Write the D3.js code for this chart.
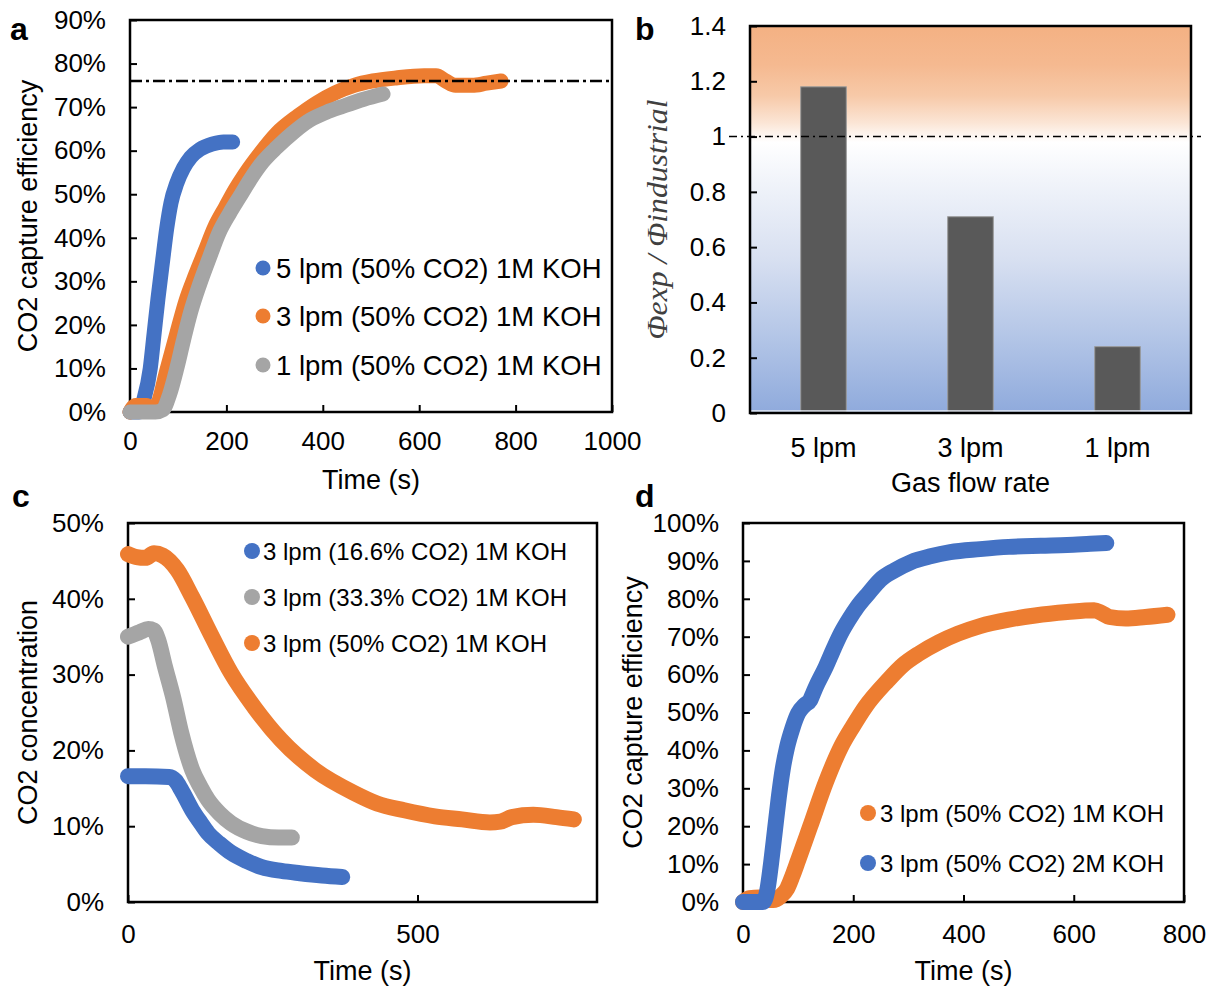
<!DOCTYPE html>
<html><head><meta charset="utf-8">
<script src="https://cdn.jsdelivr.net/npm/d3@7"></script>
<style>
body{margin:0;background:#fff}
svg{display:block}
</style>
</head><body>
<svg id="chart" width="1209" height="987"></svg>
<script>
// ---------------- DATA ----------------
// Panel a: [time (s), CO2 capture efficiency (%)]
const a5lpm = [[0,0],[19,0],[29,3],[42,10],[50,18],[58,26],[68,35],[76,42],[85,48],[97,52.5],[111,56],[126,58.5],[145,60.3],[170,61.5],[194,62],[213,62]];
const a3lpm = [[0,0],[12,1.5],[34,1.5],[48,0.5],[60,2.5],[75,9],[97,18],[116,25.5],[136,31.5],[156,37],[176,42.5],[198,47],[218,51],[238,54.5],[271,59.5],[305,64],[349,68],[388,71],[426,73.3],[465,75],[504,76],[552,76.7],[610,77.2],[635,77.2],[655,76],[675,75],[710,75],[740,75.5],[770,76]];
const a1lpm = [[0,0],[29,0],[53,0],[68,0.5],[82,4],[97,10],[111,16.5],[126,23],[145,29.5],[165,35.5],[184,41],[207,45.7],[228,49.5],[249,53.3],[276,57.5],[305,60.8],[339,64.2],[373,67],[407,68.8],[442,70.2],[485,71.8],[525,73]];
const aLegend = ["5 lpm (50% CO2) 1M KOH","3 lpm (50% CO2) 1M KOH","1 lpm (50% CO2) 1M KOH"];
const aXTicks = [0,200,400,600,800,1000];
const aYTicks = [0,10,20,30,40,50,60,70,80,90];
const aTarget = 76;

// Panel b
const bCategories = ["5 lpm","3 lpm","1 lpm"];
const bValues = [1.18, 0.71, 0.24];
const bYTicks = [0,0.2,0.4,0.6,0.8,1,1.2,1.4];
const bTarget = 1;

// Panel c: [time (s), CO2 concentration (%)]
const c166 = [[0,16.6],[30,16.6],[71,16.5],[82,16],[92,14.8],[111,12.1],[125,10.5],[138,9.1],[158,7.7],[178,6.5],[205,5.4],[231,4.6],[265,4.1],[297,3.8],[335,3.5],[370,3.3]];
const c333 = [[0,35],[20,35.6],[35,36],[45,35.8],[52,34.6],[64,31],[78,27],[92,22.3],[111,17.4],[125,15.2],[138,13.5],[158,11.7],[178,10.4],[205,9.3],[231,8.7],[260,8.5],[283,8.5]];
const c50 = [[0,45.9],[15,45.5],[30,45.4],[45,46],[60,45.7],[72,45],[85,43.8],[111,40.2],[145,35],[178,30.2],[218,25.7],[264,21.4],[323,17.4],[390,14.4],[430,13],[477,12.1],[530,11.3],[577,10.9],[625,10.5],[643,10.6],[663,11.2],[700,11.5],[740,11.2],[770,10.9]];
const cLegend = ["3 lpm (16.6% CO2) 1M KOH","3 lpm (33.3% CO2) 1M KOH","3 lpm (50% CO2) 1M KOH"];
const cXTicks = [0,500];
const cYTicks = [0,10,20,30,40,50];

// Panel d: [time (s), CO2 capture efficiency (%)]
const d1M = [[0,0],[12,1],[30,1.2],[45,0.5],[55,0.5],[68,1.5],[80,3.5],[90,7],[100,11],[122,20],[150,31.5],[178,41],[200,46.5],[221,51.3],[263,58.5],[290,62.5],[320,65.6],[355,68.5],[390,70.8],[430,72.8],[482,74.5],[530,75.6],[588,76.5],[637,77],[650,76.3],[665,75.2],[694,74.8],[730,75.2],[770,75.8]];
const d2M = [[0,0],[20,0],[36,0],[44,3],[51,10.3],[58,19],[65,27.7],[72,35],[80,40.9],[90,46],[100,49.8],[112,52],[122,53.3],[127,55],[132,56.7],[150,62],[165,67],[178,71],[192,74.5],[207,77.8],[228,81.5],[249,85],[275,87.5],[305,89.7],[340,91.2],[376,92.3],[430,93.1],[482,93.7],[540,94],[588,94.2],[630,94.5],[659,94.7]];
const dLegend = ["3 lpm (50% CO2) 1M KOH","3 lpm (50% CO2) 2M KOH"];
const dXTicks = [0,200,400,600,800];
const dYTicks = [0,10,20,30,40,50,60,70,80,90,100];

// ---------------- STYLE ----------------
const FONT = "'Liberation Sans', Arial, sans-serif";
const BLUE = "#4472C4", ORANGE = "#ED7D31", GRAY = "#A5A5A5";
const TICK_FS = 26;
const svg = d3.select("#chart");

function txt(x, y, s, size, opts = {}) {
  const t = svg.append("text").attr("x", x).attr("y", y).text(s)
    .attr("font-family", opts.family || FONT).attr("font-size", size)
    .attr("fill", opts.fill || "#000")
    .attr("text-anchor", opts.anchor || "start");
  if (opts.weight) t.attr("font-weight", opts.weight);
  if (opts.style) t.attr("font-style", opts.style);
  if (opts.rotate) t.attr("transform", `rotate(-90,${x},${y})`);
  if (opts.baseline) t.attr("dominant-baseline", opts.baseline);
  if (opts.len) t.attr("textLength", opts.len).attr("lengthAdjust", "spacingAndGlyphs");
  return t;
}

function linePanel(p) {
  const x = d3.scaleLinear().domain(p.xDomain).range([p.left, p.right]);
  const y = d3.scaleLinear().domain(p.yDomain).range([p.bottom, p.top]);
  const g = svg.append("g");
  // axes
  const ya = g.append("g").attr("transform", `translate(${p.left},0)`)
    .call(d3.axisLeft(y).tickValues(p.yTicks).tickFormat(d => d + "%").tickSize(-7).tickPadding(24));
  const xa = g.append("g").attr("transform", `translate(0,${p.bottom})`)
    .call(d3.axisBottom(x).tickValues(p.xTicks).tickFormat(d3.format("d")).tickSize(-7).tickPadding(p.xPad));
  [ya, xa].forEach(a => {
    a.select(".domain").remove();
    a.selectAll("line").attr("stroke", "#000").attr("stroke-width", 2);
    a.selectAll("text").attr("font-size", TICK_FS).attr("font-family", FONT).attr("fill", "#000");
  });
  g.append("rect").attr("x", p.left).attr("y", p.top)
    .attr("width", p.right - p.left).attr("height", p.bottom - p.top)
    .attr("fill", "none").attr("stroke", "#000").attr("stroke-width", 2.5);
  // series
  const line = d3.line().x(d => x(d[0])).y(d => y(d[1])).curve(d3.curveMonotoneX);
  p.series.forEach(s => {
    g.append("path").datum(s.data).attr("d", line)
      .attr("fill", "none").attr("stroke", s.color).attr("stroke-width", p.sw)
      .attr("stroke-linecap", "round").attr("stroke-linejoin", "round");
  });
  // target line
  if (p.target !== undefined) {
    g.append("line").attr("x1", p.left).attr("x2", p.right)
      .attr("y1", y(p.target)).attr("y2", y(p.target))
      .attr("stroke", "#000").attr("stroke-width", 2.5).attr("stroke-dasharray", "12,4,3,4");
  }
  // legend
  p.legend.items.forEach((it, i) => {
    const ly = p.legend.ys[i];
    g.append("circle").attr("cx", p.legend.dotX).attr("cy", ly).attr("r", p.legend.r).attr("fill", it.color);
    txt(p.legend.textX, ly + 0.36 * p.legend.size, it.label, p.legend.size);
  });
  // titles
  txt((p.left + p.right) / 2, p.xTitleY, "Time (s)", 27, {anchor: "middle"});
  txt(p.yTitleX, (p.top + p.bottom) / 2, p.yTitle, 27, {anchor: "middle", rotate: true, baseline: "central"});
}

// ---------------- PANEL A ----------------
linePanel({
  left: 130, right: 612, top: 20, bottom: 412,
  xDomain: [0, 1000], yDomain: [0, 90], xTicks: aXTicks, yTicks: aYTicks, xPad: 20,
  sw: 15,
  series: [{data: a5lpm, color: BLUE}, {data: a3lpm, color: ORANGE}, {data: a1lpm, color: GRAY}],
  target: aTarget,
  legend: {dotX: 263, textX: 276, ys: [268, 316, 365], r: 7.5, size: 27.5,
    items: [{label: aLegend[0], color: BLUE}, {label: aLegend[1], color: ORANGE}, {label: aLegend[2], color: GRAY}]},
  xTitleY: 489, yTitleX: 28, yTitle: "CO2 capture efficiency"
});

// ---------------- PANEL C ----------------
linePanel({
  left: 128, right: 597, top: 523, bottom: 902,
  xDomain: [0, 810], yDomain: [0, 50], xTicks: cXTicks, yTicks: cYTicks, xPad: 23,
  sw: 16,
  series: [{data: c166, color: BLUE}, {data: c333, color: GRAY}, {data: c50, color: ORANGE}],
  legend: {dotX: 252, textX: 263, ys: [551, 597, 643], r: 8, size: 24,
    items: [{label: cLegend[0], color: BLUE}, {label: cLegend[1], color: GRAY}, {label: cLegend[2], color: ORANGE}]},
  xTitleY: 980, yTitleX: 28, yTitle: "CO2 concentration"
});

// ---------------- PANEL D ----------------
linePanel({
  left: 743, right: 1184, top: 523, bottom: 902,
  xDomain: [0, 800], yDomain: [0, 100], xTicks: dXTicks, yTicks: dYTicks, xPad: 23,
  sw: 16,
  series: [{data: d1M, color: ORANGE}, {data: d2M, color: BLUE}],
  legend: {dotX: 868, textX: 880, ys: [813, 863], r: 8, size: 24,
    items: [{label: dLegend[0], color: ORANGE}, {label: dLegend[1], color: BLUE}]},
  xTitleY: 980, yTitleX: 633, yTitle: "CO2 capture efficiency"
});

// ---------------- PANEL B ----------------
(function () {
  const L = 750, R = 1191, T = 26, B = 413;
  const x = d3.scaleBand().domain(bCategories).range([L, R]);
  const y = d3.scaleLinear().domain([0, 1.4]).range([B, T]);
  const defs = svg.append("defs");
  const grad = defs.append("linearGradient").attr("id", "bgGrad")
    .attr("x1", 0).attr("y1", 0).attr("x2", 0).attr("y2", 1);
  [[0, "#F4B183"], [0.1, "#F5B990"], [0.18, "#F7C9A8"], [0.25, "#FBE5D5"], [0.3, "#FFFFFF"],
   [0.4, "#F1F4FA"], [0.6, "#D8E0F1"], [0.8, "#B4C6E7"], [1, "#8FAADC"]]
    .forEach(s => grad.append("stop").attr("offset", s[0]).attr("stop-color", s[1]));
  const g = svg.append("g");
  g.append("rect").attr("x", L).attr("y", T).attr("width", R - L).attr("height", B - T).attr("fill", "url(#bgGrad)");
  const bw = x.bandwidth() * 0.31;
  g.selectAll("rect.bar").data(bValues).enter().append("rect").attr("class", "bar")
    .attr("x", (d, i) => x(bCategories[i]) + (x.bandwidth() - bw) / 2)
    .attr("y", d => y(d)).attr("width", bw).attr("height", d => B - y(d))
    .attr("fill", "#595959").attr("stroke", "#9a9a9a").attr("stroke-width", 1);
  g.append("line").attr("x1", L).attr("x2", R).attr("y1", B - 2).attr("y2", B - 2)
    .attr("stroke", "#e6ebf5").attr("stroke-width", 1.5);
  const ya = g.append("g").attr("transform", `translate(${L},0)`)
    .call(d3.axisLeft(y).tickValues(bYTicks).tickFormat(d3.format("~g")).tickSize(-7).tickPadding(24));
  const xa = g.append("g").attr("transform", `translate(0,${B})`)
    .call(d3.axisBottom(x).tickSize(0).tickPadding(25));
  [ya, xa].forEach(a => {
    a.select(".domain").remove();
    a.selectAll("line").attr("stroke", "#000").attr("stroke-width", 2);
    a.selectAll("text").attr("font-family", FONT).attr("fill", "#000");
  });
  ya.selectAll("text").attr("font-size", TICK_FS);
  xa.selectAll("text").attr("font-size", 27);
  g.append("rect").attr("x", L).attr("y", T).attr("width", R - L).attr("height", B - T)
    .attr("fill", "none").attr("stroke", "#000").attr("stroke-width", 2.5);
  g.append("line").attr("x1", 729).attr("x2", 1201).attr("y1", y(bTarget)).attr("y2", y(bTarget))
    .attr("stroke", "#000").attr("stroke-width", 1.5).attr("stroke-dasharray", "8,4,2,4");
  txt((L + R) / 2, 492, "Gas flow rate", 27, {anchor: "middle"});
  txt(657, (T + B) / 2, "Φexp / Φindustrial", 29,
    {anchor: "middle", rotate: true, baseline: "central", family: "'Liberation Serif', 'DejaVu Serif', serif",
     style: "italic", fill: "#404040", len: 240});
})();

// ---------------- PANEL LETTERS ----------------
txt(10, 40, "a", 32, {weight: "bold"});
txt(635, 40, "b", 32, {weight: "bold"});
txt(12, 507, "c", 32, {weight: "bold"});
txt(635, 507, "d", 32, {weight: "bold"});
</script>
</body></html>
